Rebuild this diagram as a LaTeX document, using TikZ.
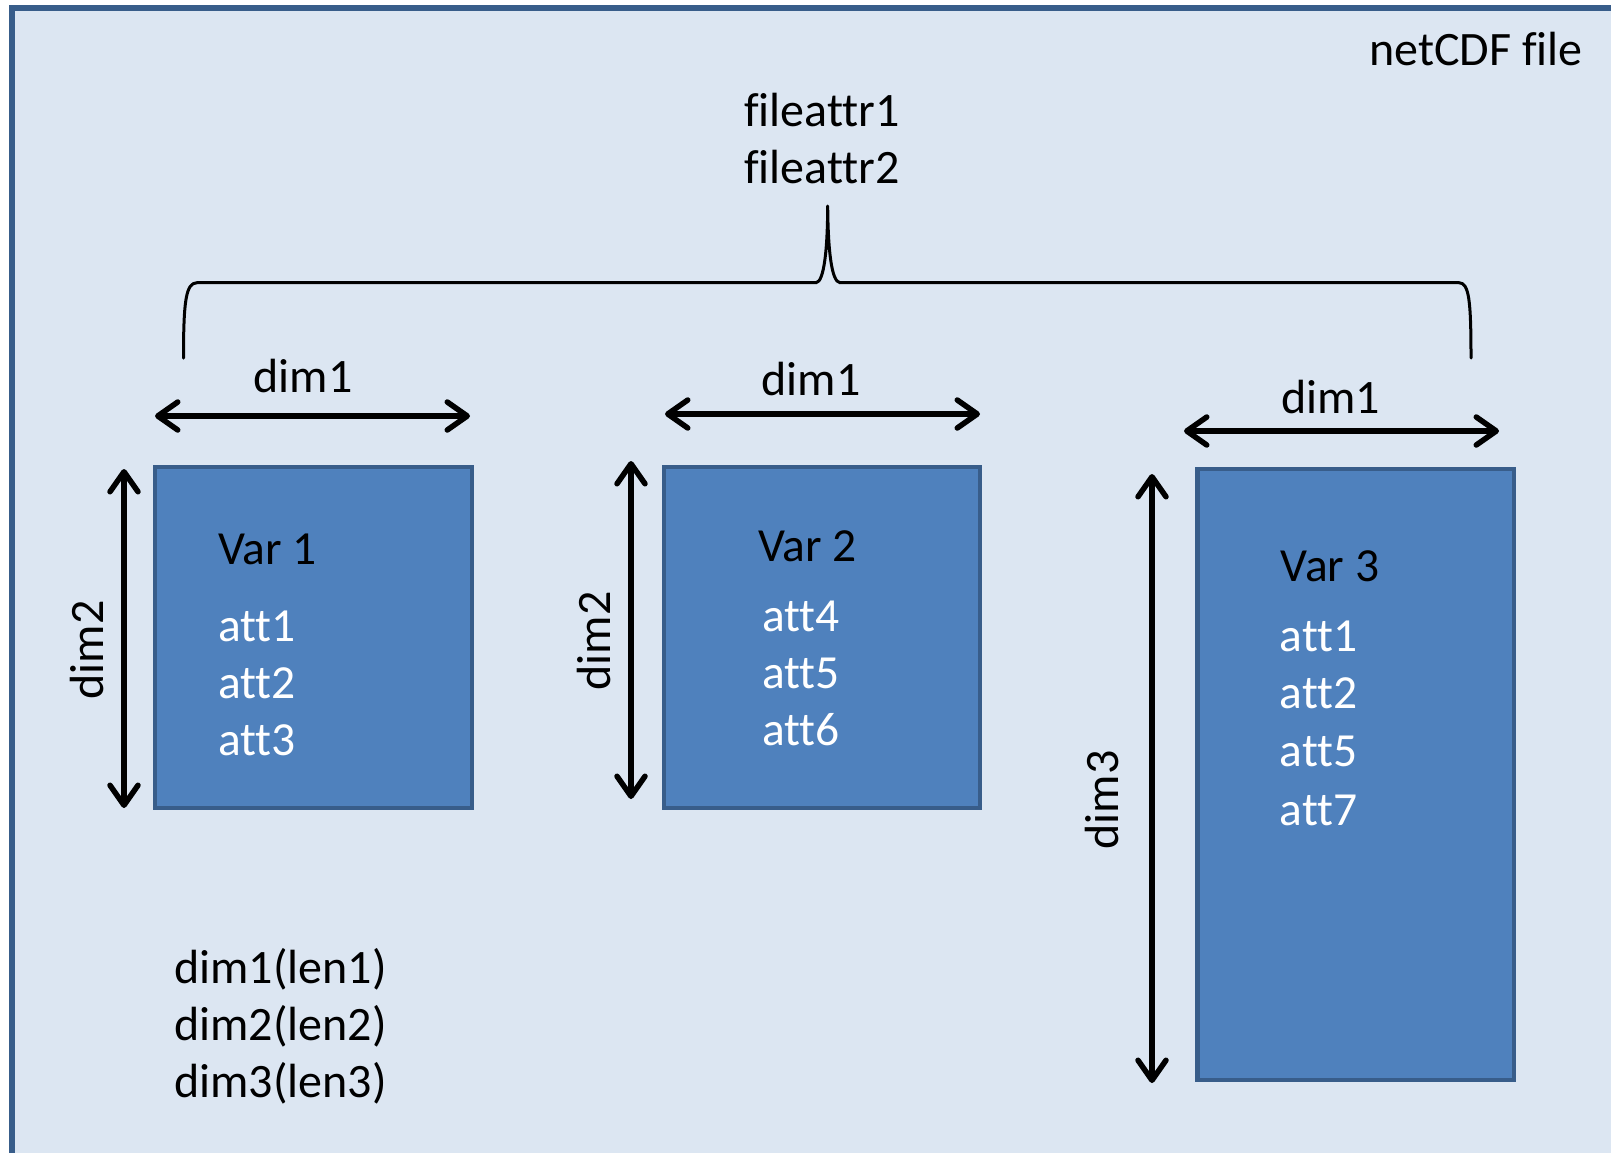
\documentclass[tikz,border=0pt]{standalone}
\usepackage{fontspec}
\setmainfont{Carlito}[Ligatures=NoCommon]
\usetikzlibrary{arrows.meta}
\definecolor{pagebg}{HTML}{DCE6F2}
\definecolor{frameblue}{HTML}{385D8A}
\definecolor{varfill}{HTML}{4F81BD}

\begin{document}
\begin{tikzpicture}[x=1pt,y=-1pt,
  lbl/.style={font=\fontsize{48}{57}\selectfont, inner sep=0pt},
  vtxt/.style={font=\fontsize{47.5}{57}\selectfont, inner sep=0pt, anchor=base west},
  atxt/.style={vtxt, text=white},
  vbox/.style={draw=frameblue, fill=varfill, line width=4.5pt, inner sep=0pt, rectangle},
  barb/.tip={Straight Barb[length=20pt,width=28pt,round]},
  dimarrow/.style={line width=5.5pt, line cap=round, barb-barb},
  brace/.style={line width=3pt, line join=round, line cap=round},
]
\useasboundingbox (0,0) rectangle (1611,1152);
\clip (0,0) rectangle (1611,1152);
\fill[white] (0,0) rectangle (1611,1152);

% the file frame, running off the right and bottom edges
\draw[fill=pagebg, draw=frameblue, line width=5.5pt] (12,8) rectangle (1660,1200);

\node[lbl, anchor=base east] (title) at (1583,65) {netCDF file};

% global attributes
\node[lbl, anchor=base] (fa1) at (822,126) {fileattr1};
\node[lbl, anchor=base] (fa2) at (822,183) {fileattr2};

% brace grouping the three variables
\coordinate (bl) at (183.5,358);
\coordinate (bt) at (827.7,206);
\coordinate (br) at (1471,358);
\draw[brace] (bl) .. controls (183.5,300) and (186,283) .. (197,282.7)
  -- (816,282.7) .. controls (824,282) and (827.5,250) .. (bt)
  .. controls (828,250) and (831.5,282) .. (840,282.7)
  -- (1459,282.7) .. controls (1469,283) and (1471,300) .. (br);

% variables
\node[vbox, minimum width=317pt, minimum height=341pt] (v1) at (313.5,637.5) {};
\node[vbox, minimum width=316pt, minimum height=341pt] (v2) at (822,637.5) {};
\node[vbox, minimum width=316.5pt, minimum height=611pt] (v3) at (1355.75,774.5) {};

\node[vtxt] (v1n) at (218,564) {Var 1};
\node[atxt] (v1a) at (218,641.5) {att1};
\node[atxt] (v1b) at (218,698) {att2};
\node[atxt] (v1c) at (218,755) {att3};

\node[vtxt] (v2n) at (758,561.5) {Var 2};
\node[atxt] (v2a) at (762,631.5) {att4};
\node[atxt] (v2b) at (762,688) {att5};
\node[atxt] (v2c) at (762,745) {att6};

\node[vtxt] (v3n) at (1280.5,581.5) {Var 3};
\node[atxt] (v3a) at (1279.5,651.5) {att1};
\node[atxt] (v3b) at (1279.5,708) {att2};
\node[atxt] (v3c) at (1279.5,766.5) {att5};
\node[atxt] (v3d) at (1279.5,825) {att7};

% dimension arrows
\coordinate (h1a) at (155,416);   \coordinate (h1b) at (470,416);
\coordinate (h2a) at (665,414);   \coordinate (h2b) at (980,414);
\coordinate (h3a) at (1184,431);  \coordinate (h3b) at (1499,431);
\coordinate (d1a) at (124,469);   \coordinate (d1b) at (124,808);
\coordinate (d2a) at (631,461);   \coordinate (d2b) at (631,799);
\coordinate (d3a) at (1152,474);  \coordinate (d3b) at (1152,1083);
\draw[dimarrow] (h1a) -- (h1b);
\draw[dimarrow] (h2a) -- (h2b);
\draw[dimarrow] (h3a) -- (h3b);
\draw[dimarrow] (d1a) -- (d1b);
\draw[dimarrow] (d2a) -- (d2b);
\draw[dimarrow] (d3a) -- (d3b);

\node[lbl, anchor=base] (l1) at (303,392) {dim1};
\node[lbl, anchor=base] (l2) at (811,395) {dim1};
\node[lbl, anchor=base] (l3) at (1330.5,413) {dim1};
\node[lbl, anchor=base, rotate=90] (l4) at (103,650) {dim2};
\node[lbl, anchor=base, rotate=90] (l5) at (610,641) {dim2};
\node[lbl, anchor=base, rotate=90] (l6) at (1118,800) {dim3};

% dimension list
\node[lbl, anchor=base west] (dl1) at (174,983) {dim1(len1)};
\node[lbl, anchor=base west] (dl2) at (174,1040) {dim2(len2)};
\node[lbl, anchor=base west] (dl3) at (174,1097) {dim3(len3)};
\end{tikzpicture}
\end{document}
